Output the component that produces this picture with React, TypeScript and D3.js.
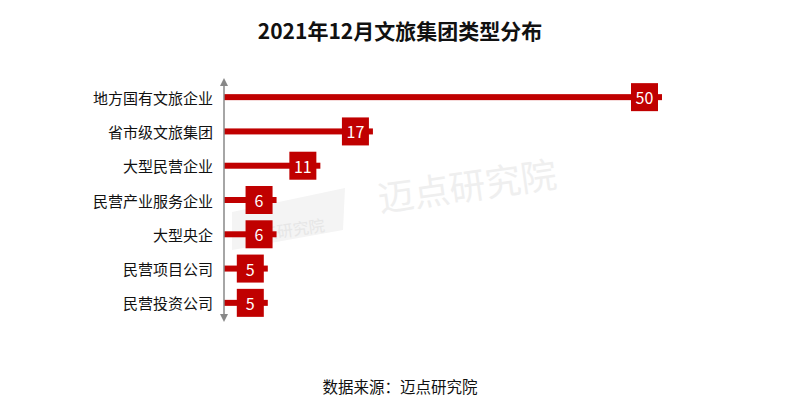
import {useEffect} from "react";
import * as d3 from "d3";

const WIDTH = 800;
const HEIGHT = 417;

const categories = ["地方国有文旅企业", "省市级文旅集团", "大型民营企业", "民营产业服务企业", "大型央企", "民营项目公司", "民营投资公司"];
const counts = [50, 17, 11, 6, 6, 5, 5];

const TITLE = "2021年12月文旅集团类型分布";
const SOURCE = "数据来源：迈点研究院";

const MARGIN = {top: 80, left: 224, bottom: 97};
const RED = "#c00000";

export default function App() {
    useEffect(() => {
        document.body.style.margin = "0";
    }, []);

    const font = "'Noto Sans CJK SC', 'Microsoft YaHei', sans-serif";

    const x = d3.scaleLinear().domain([0, 50]).range([MARGIN.left, 662]);
    const y = d3
        .scaleBand()
        .domain(categories)
        .range([MARGIN.top, HEIGHT - MARGIN.bottom])
        .paddingInner(0)
        .paddingOuter(0);

    const boxW = 27;
    const boxH = 28;
    const barH = 6;

    return (
        <svg width={WIDTH} height={HEIGHT} style={{display: "block"}}>
            <rect width={WIDTH} height={HEIGHT} fill="#fff"/>
            {/* watermark */}
            <g>
                <path d="M232,212 L345,188 L343,230 L232,250 Z" fill="#f4f4f4"/>
                <text x={262} y={240} fontSize={16} fontFamily={font} fill="#e6e6e6"
                      transform="rotate(-8 262 240)">点研究院</text>
                <text x={380} y={212} fontSize={36} fontFamily={font} fill="#efefef"
                      transform="rotate(-8 380 212)">迈点研究院</text>
            </g>

            <text x={WIDTH / 2} y={30} textAnchor="middle" dominantBaseline="central" fontSize={21}
                  fontWeight="bold" fontFamily={font} fill="#111">{TITLE}</text>

            {categories.map((c, i) => {
                const cy = (y(c) ?? 0) + y.bandwidth() / 2;
                const xe = x(counts[i]);
                return (
                    <g key={c}>
                        <rect x={x(0)} y={cy - barH / 2} width={xe - x(0)} height={barH} fill={RED}/>
                        <rect x={xe - 4 - boxW} y={cy - boxH / 2} width={boxW} height={boxH} fill={RED}/>
                        <text x={xe - 4 - boxW / 2} y={cy} textAnchor="middle" dominantBaseline="central"
                              fontSize={16} fontFamily={font} fill="#fff">{counts[i]}</text>
                        <text x={MARGIN.left - 11} y={cy} textAnchor="end" dominantBaseline="central"
                              fontSize={15} fontFamily={font} fill="#111">{c}</text>
                    </g>
                );
            })}

            {/* axis with arrows */}
            <line x1={MARGIN.left} x2={MARGIN.left} y1={80} y2={320} stroke="#888" strokeWidth={1.5}/>
            <path d={`M${MARGIN.left - 4},86 L${MARGIN.left},78 L${MARGIN.left + 4},86 Z`} fill="#888"/>
            <path d={`M${MARGIN.left - 4},314 L${MARGIN.left},322 L${MARGIN.left + 4},314 Z`} fill="#888"/>

            <text x={WIDTH / 2} y={386} textAnchor="middle" dominantBaseline="central" fontSize={15.5}
                  fontFamily={font} fill="#111">{SOURCE}</text>
        </svg>
    );
}
